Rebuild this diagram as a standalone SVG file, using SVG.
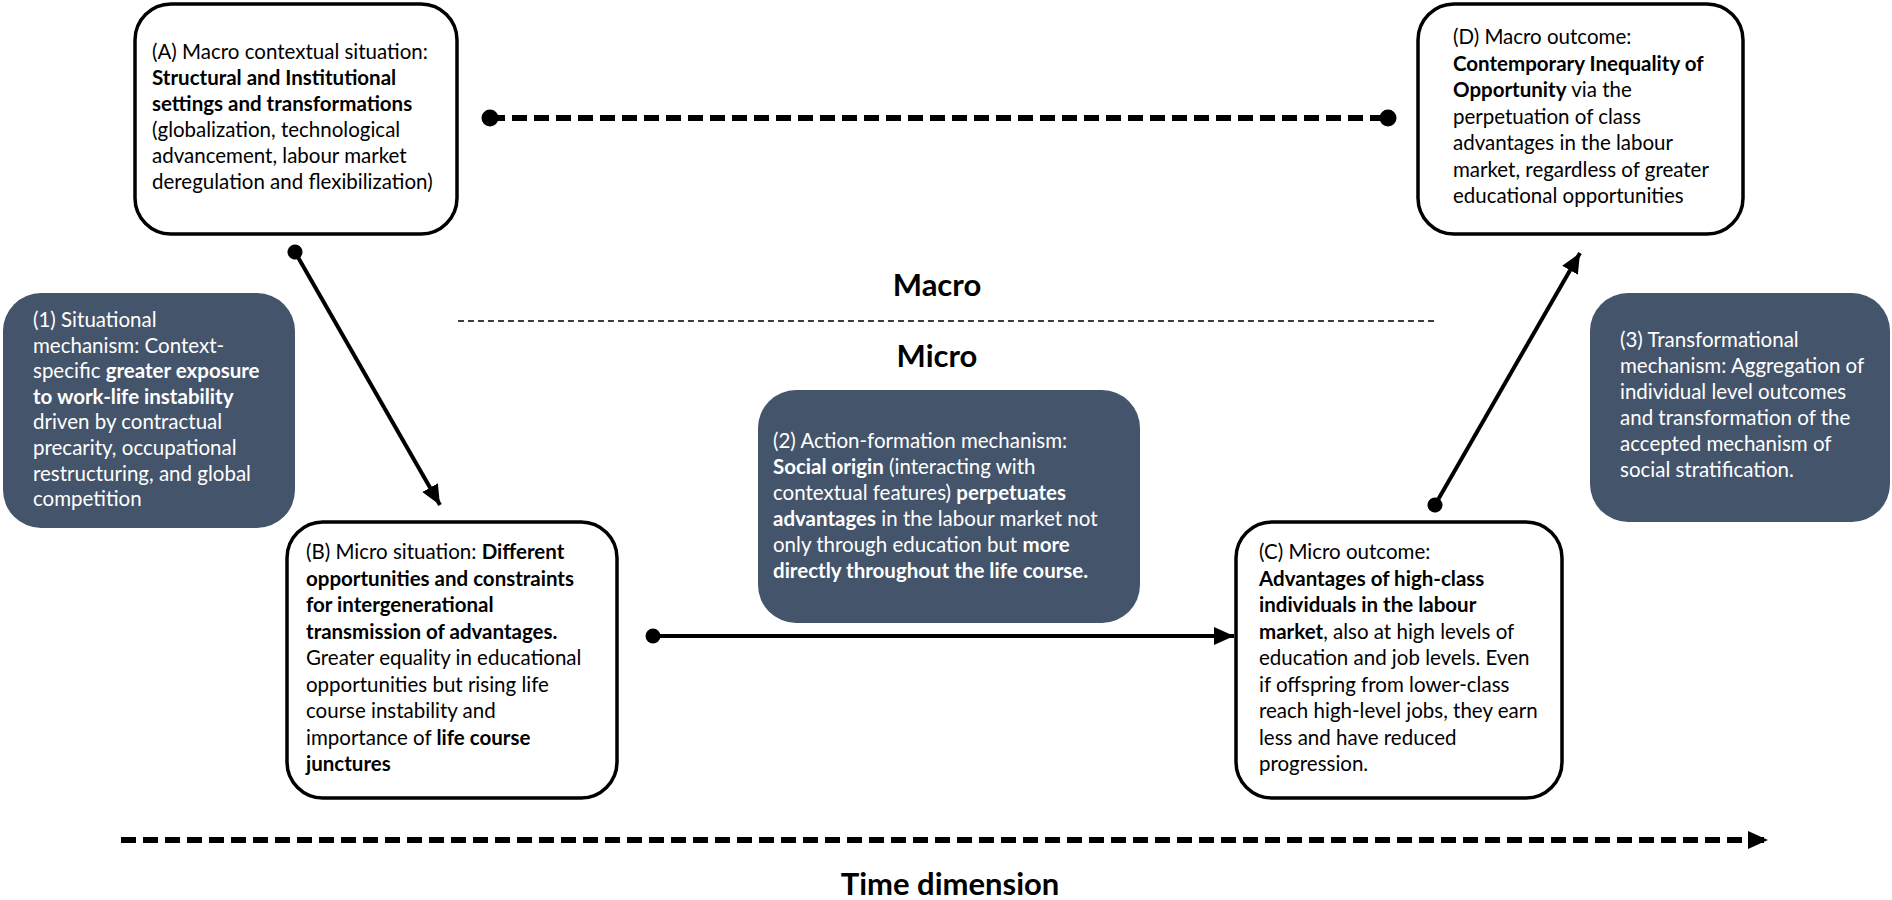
<svg xmlns="http://www.w3.org/2000/svg" width="1892" height="900" viewBox="0 0 1892 900">
<style>
.box{fill:#fff;stroke:#000;stroke-width:3.5}
.mech{fill:#44546a}
.t{font-family:Lato,"Liberation Sans",sans-serif;font-size:20.5px;fill:#000}
.w{fill:#fff}
.b{font-weight:bold}
.h{font-family:Lato,"Liberation Sans",sans-serif;font-size:31px;font-weight:bold;fill:#000;text-anchor:middle}
.conn{stroke:#000;stroke-width:4;fill:none}
.dash{stroke:#000;stroke-width:6;stroke-dasharray:15 7;fill:none}
.thin{stroke:#000;stroke-width:1.5;stroke-dasharray:6 4;fill:none}
</style>
<defs>
<marker id="arrow" markerUnits="userSpaceOnUse" markerWidth="24" markerHeight="20" refX="20" refY="9" orient="auto">
<path d="M0,0 L20,9 L0,18 Z" fill="#000"/>
</marker>
<marker id="dot" markerUnits="userSpaceOnUse" markerWidth="18" markerHeight="18" refX="9" refY="9" orient="auto">
<circle cx="9" cy="9" r="7.5" fill="#000"/>
</marker>
<marker id="bigdot" markerUnits="userSpaceOnUse" markerWidth="20" markerHeight="20" refX="10" refY="10" orient="auto">
<circle cx="10" cy="10" r="8.5" fill="#000"/>
</marker>
</defs>

<g id="node-A">
<rect class="box" x="135" y="4" width="322" height="230" rx="36"/>
<text class="t">
<tspan x="152" y="59">(A) Macro contextual situation:</tspan>
<tspan x="152" y="85" class="b">Structural and Institutional</tspan>
<tspan x="152" y="111" class="b">settings and transformations</tspan>
<tspan x="152" y="137">(globalization, technological</tspan>
<tspan x="152" y="163">advancement, labour market</tspan>
<tspan x="152" y="189">deregulation and flexibilization)</tspan>
</text>
</g>

<g id="node-D">
<rect class="box" x="1418" y="4" width="325" height="230" rx="36"/>
<text class="t">
<tspan x="1453" y="44">(D) Macro outcome:</tspan>
<tspan x="1453" y="70.5" class="b">Contemporary Inequality of</tspan>
<tspan x="1453" y="97"><tspan class="b">Opportunity</tspan> via the</tspan>
<tspan x="1453" y="123.5">perpetuation of class</tspan>
<tspan x="1453" y="150">advantages in the labour</tspan>
<tspan x="1453" y="176.5">market, regardless of greater</tspan>
<tspan x="1453" y="203">educational opportunities</tspan>
</text>
</g>

<g id="node-1">
<rect class="mech" x="3" y="293" width="292" height="235" rx="38"/>
<text class="t w">
<tspan x="33" y="327">(1) Situational</tspan>
<tspan x="33" y="352.6">mechanism: Context-</tspan>
<tspan x="33" y="378.2">specific <tspan class="b">greater exposure</tspan></tspan>
<tspan x="33" y="403.8" class="b">to work-life instability</tspan>
<tspan x="33" y="429.4">driven by contractual</tspan>
<tspan x="33" y="455">precarity, occupational</tspan>
<tspan x="33" y="480.6">restructuring, and global</tspan>
<tspan x="33" y="506.2">competition</tspan>
</text>
</g>

<g id="node-3">
<rect class="mech" x="1590" y="293" width="300" height="229" rx="38"/>
<text class="t w">
<tspan x="1620" y="347">(3) Transformational</tspan>
<tspan x="1620" y="373">mechanism: Aggregation of</tspan>
<tspan x="1620" y="399">individual level outcomes</tspan>
<tspan x="1620" y="425">and transformation of the</tspan>
<tspan x="1620" y="451">accepted mechanism of</tspan>
<tspan x="1620" y="477">social stratification.</tspan>
</text>
</g>

<g id="node-2">
<rect class="mech" x="758" y="390" width="382" height="233" rx="38"/>
<text class="t w">
<tspan x="773" y="448">(2) Action-formation mechanism:</tspan>
<tspan x="773" y="474"><tspan class="b">Social origin</tspan> (interacting with</tspan>
<tspan x="773" y="500">contextual features) <tspan class="b">perpetuates</tspan></tspan>
<tspan x="773" y="526"><tspan class="b">advantages</tspan> in the labour market not</tspan>
<tspan x="773" y="552">only through education but <tspan class="b">more</tspan></tspan>
<tspan x="773" y="578" class="b">directly throughout the life course.</tspan>
</text>
</g>

<g id="node-B">
<rect class="box" x="287" y="522" width="330" height="276" rx="36"/>
<text class="t">
<tspan x="306" y="559">(B) Micro situation: <tspan class="b">Different</tspan></tspan>
<tspan x="306" y="585.5" class="b">opportunities and constraints</tspan>
<tspan x="306" y="612" class="b">for intergenerational</tspan>
<tspan x="306" y="638.5" class="b">transmission of advantages.</tspan>
<tspan x="306" y="665">Greater equality in educational</tspan>
<tspan x="306" y="691.5">opportunities but rising life</tspan>
<tspan x="306" y="718">course instability and</tspan>
<tspan x="306" y="744.5">importance of <tspan class="b">life course</tspan></tspan>
<tspan x="306" y="771" class="b">junctures</tspan>
</text>
</g>

<g id="node-C">
<rect class="box" x="1236" y="522" width="326" height="276" rx="36"/>
<text class="t">
<tspan x="1259" y="559">(C) Micro outcome:</tspan>
<tspan x="1259" y="585.5" class="b">Advantages of high-class</tspan>
<tspan x="1259" y="612" class="b">individuals in the labour</tspan>
<tspan x="1259" y="638.5"><tspan class="b">market</tspan>, also at high levels of</tspan>
<tspan x="1259" y="665">education and job levels. Even</tspan>
<tspan x="1259" y="691.5">if offspring from lower-class</tspan>
<tspan x="1259" y="718">reach high-level jobs, they earn</tspan>
<tspan x="1259" y="744.5">less and have reduced</tspan>
<tspan x="1259" y="771">progression.</tspan>
</text>
</g>

<g id="labels">
<text class="h" x="937" y="296">Macro</text>
<text class="h" x="937" y="367">Micro</text>
<text class="h" x="950" y="895">Time dimension</text>
</g>

<g id="connectors">
<line class="dash" x1="490" y1="118" x2="1388" y2="118" marker-start="url(#bigdot)" marker-end="url(#bigdot)"/>
<line class="thin" x1="458" y1="321" x2="1436" y2="321"/>
<line class="conn" x1="295" y1="252" x2="440" y2="505" marker-start="url(#dot)" marker-end="url(#arrow)"/>
<line class="conn" x1="1435" y1="505" x2="1580" y2="253" marker-start="url(#dot)" marker-end="url(#arrow)"/>
<line class="conn" x1="653" y1="636" x2="1234" y2="636" marker-start="url(#dot)" marker-end="url(#arrow)"/>
<line class="dash" x1="121" y1="840" x2="1768" y2="840" marker-end="url(#arrow)"/>
</g>
</svg>
